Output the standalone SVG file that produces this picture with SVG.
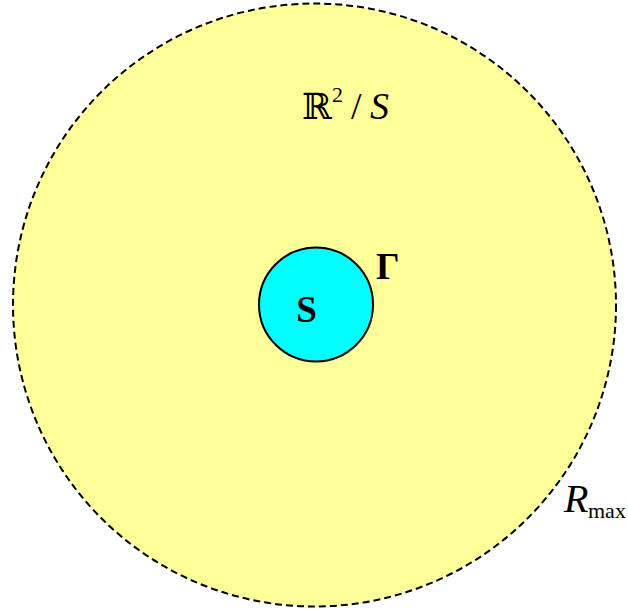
<svg xmlns="http://www.w3.org/2000/svg" width="628" height="611" viewBox="0 0 628 611">
<style>
text{font-family:"Liberation Serif","DejaVu Serif",serif;fill:#000}
text.bb{font-family:"DejaVu Serif","DejaVu Sans",serif}
</style>
<rect width="628" height="611" fill="#fff"/>
<g id="domain">
<circle cx="314.5" cy="305" r="301.5" fill="#ffff99" stroke="#000" stroke-width="2" stroke-dasharray="7,4"/>
</g>
<g id="obstacle">
<circle cx="316" cy="304.5" r="57" fill="#00ffff" stroke="#000" stroke-width="2"/>
<text x="306.5" y="322" font-size="37" font-weight="bold" text-anchor="middle">S</text>
</g>
<g id="labels">
<text class="bb" x="302" y="119" font-size="36">ℝ</text>
<text x="332" y="102" font-size="22">2</text>
<text x="351" y="119" font-size="38">/</text>
<text x="370" y="119" font-size="38" font-style="italic">S</text>
<text x="376" y="279" font-size="37" font-weight="bold">Γ</text>
<text x="564" y="512" font-size="40" font-style="italic">R</text>
<text x="588" y="518" font-size="22">max</text>
</g>
<g id="connectors"/>
</svg>
